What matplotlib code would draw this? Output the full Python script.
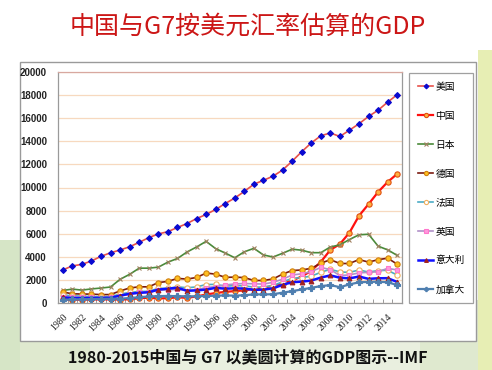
import matplotlib
matplotlib.use("Agg")
import matplotlib.pyplot as plt
from matplotlib.patches import Rectangle
import numpy as np

years = list(range(1980, 2016))
usa = [2863, 3211, 3345, 3638, 4041, 4347, 4590, 4870, 5253, 5658, 5980, 6174, 6539, 6879, 7309, 7664,
       8100, 8609, 9089, 9661, 10285, 10622, 10978, 11511, 12275, 13094, 13856, 14478, 14719, 14419,
       14964, 15518, 16155, 16692, 17393, 18037]
china = [305, 290, 285, 305, 315, 310, 300, 327, 410, 460, 395, 415, 495, 445, 565, 735,
         865, 965, 1030, 1090, 1215, 1340, 1475, 1660, 1955, 2290, 2790, 3555, 4595, 5100,
         6090, 7550, 8560, 9610, 10480, 11180]
japan = [1087, 1201, 1117, 1218, 1295, 1385, 2051, 2485, 3015, 3017, 3104, 3537, 3853, 4415, 4850, 5334,
         4706, 4324, 3915, 4433, 4731, 4160, 3980, 4302, 4656, 4572, 4357, 4356, 4849, 5035,
         5495, 5906, 5954, 4920, 4602, 4120]
germany = [950, 800, 775, 770, 725, 730, 1045, 1300, 1400, 1400, 1770, 1870, 2130, 2070, 2210, 2590,
           2500, 2220, 2240, 2200, 1950, 1950, 2080, 2500, 2810, 2860, 3000, 3440, 3750, 3420,
           3420, 3760, 3540, 3750, 3880, 3360]
france = [700, 620, 590, 560, 530, 550, 770, 920, 1000, 1010, 1270, 1270, 1400, 1320, 1390, 1600,
          1610, 1460, 1510, 1490, 1370, 1380, 1500, 1840, 2120, 2200, 2320, 2660, 2920, 2690,
          2650, 2860, 2680, 2810, 2830, 2420]
uk = [560, 540, 510, 480, 460, 490, 600, 740, 910, 930, 1090, 1140, 1180, 1060, 1140, 1340,
      1420, 1560, 1650, 1690, 1660, 1640, 1790, 2060, 2420, 2530, 2710, 3080, 2890, 2380,
      2430, 2610, 2650, 2710, 3000, 2860]
italy = [480, 430, 430, 440, 440, 450, 640, 800, 880, 930, 1160, 1240, 1320, 1060, 1090, 1160,
         1310, 1240, 1270, 1250, 1140, 1160, 1270, 1570, 1800, 1850, 1940, 2200, 2390, 2190,
         2130, 2290, 2090, 2140, 2150, 1820]
canada = [275, 305, 315, 340, 355, 365, 375, 430, 505, 565, 595, 610, 590, 580, 580, 605,
          630, 655, 635, 675, 745, 740, 760, 895, 1025, 1170, 1315, 1460, 1550, 1370,
          1610, 1790, 1830, 1840, 1800, 1550]

names = ["美国", "中国", "日本", "德国", "法国", "英国", "意大利", "加拿大"]
title_text = "中国与G7按美元汇率估算的GDP"
caption_text = "1980-2015中国与 G7 以美圆计算的GDP图示--IMF"
yticks = list(range(0, 20001, 2000))
xtick_years = list(range(1980, 2015, 2))

plt.rcParams['font.family'] = ['Noto Sans CJK SC', 'DejaVu Sans']

fig = plt.figure(figsize=(4.92, 3.70), dpi=100)
fig.patch.set_facecolor('white')

# background decorations (slide background)
bg = fig.add_axes([0, 0, 1, 1], zorder=-10)
bg.set_xlim(0, 492); bg.set_ylim(370, 0); bg.axis('off')
bg.add_patch(Rectangle((0, 300), 492, 70, color='#dfe9cf', lw=0))
bg.add_patch(Rectangle((90, 340), 330, 30, color='#e9efdf', lw=0))
bg.add_patch(Rectangle((0, 240), 20, 130, color='#d6e5c6', lw=0))
bg.add_patch(Rectangle((478, 50), 14, 320, color='#e7eeb4', lw=0))
bg.add_patch(Rectangle((20, 62), 456, 279, facecolor='white', edgecolor='#9a9a9a', lw=1.0))

fig.text(248 / 492, 1 - 27 / 370, title_text, color='#cc1616', fontsize=18,
         ha='center', va='center')
fig.text(248 / 492, 1 - 357 / 370, caption_text, color='#111111', fontsize=11.5,
         fontweight='bold', ha='center', va='center')

ax = fig.add_axes([58 / 492, 1 - 303 / 370, (402 - 58) / 492, (303 - 72) / 370])
ax.set_facecolor('white')

styles = [
    dict(data=usa, color='#e8504a', lw=1.2, marker='D', ms=3.0, mfc='#0a0ad0', mec='#0a0ad0'),
    dict(data=china, color='#ff1010', lw=1.6, marker='o', ms=3.8, mfc='#ffb040', mec='#e05010'),
    dict(data=japan, color='#4a8a3a', lw=1.2, marker='x', ms=3.5, mfc='#a08060', mec='#a08060'),
    dict(data=germany, color='#7a1a10', lw=1.2, marker='o', ms=3.8, mfc='#ffc020', mec='#d08010'),
    dict(data=france, color='#4bacc6', lw=1.2, marker='o', ms=3.8, mfc='white', mec='#f0b060'),
    dict(data=uk, color='#b090c8', lw=1.2, marker='s', ms=3.4, mfc='#ff99dd', mec='#ff77cc'),
    dict(data=italy, color='#1010ff', lw=1.8, marker='^', ms=3.4, mfc='#a02020', mec='#a02020'),
    dict(data=canada, color='#4f7fb0', lw=1.6, marker='P', ms=3.8, mfc='#4f7fb0', mec='#4f7fb0'),
]

for name, st in zip(names, styles):
    ax.plot(years, st['data'], color=st['color'], lw=st['lw'], marker=st['marker'],
            ms=st['ms'], mfc=st['mfc'], mec=st['mec'], mew=0.8, label=name)

ax.set_xlim(1979.5, 2015.5)
ax.set_ylim(0, 20000)
ax.set_yticks(yticks)
ax.set_yticklabels([str(v) for v in yticks], fontfamily='Liberation Sans',
                   fontweight='bold', fontsize=7, color='#222222')
ax.set_xticks(xtick_years)
ax.set_xticklabels([str(y) for y in xtick_years], rotation=45, ha='right',
                   rotation_mode='anchor', fontfamily='Liberation Serif',
                   fontsize=7, color='#222222')
ax.set_xticks(np.arange(1979.5, 2015.6, 1), minor=True)
ax.tick_params(axis='x', which='major', length=0, pad=7)
ax.tick_params(axis='x', which='minor', length=3, color='#888888', direction='in')
ax.tick_params(axis='y', length=0, pad=8)
ax.grid(axis='y', color='#f7d9bf', lw=0.9)
ax.set_axisbelow(True)
for s in ['left', 'bottom', 'right']:
    ax.spines[s].set_color('#9a9a9a')
    ax.spines[s].set_linewidth(0.9)
ax.spines['top'].set_color('#d8a8a0')
ax.spines['top'].set_linewidth(0.9)

leg = fig.legend(loc='upper left', bbox_to_anchor=(409 / 492, 1 - 73 / 370),
                 fontsize=7, handlelength=1.6, handletextpad=0.2, labelspacing=1.95,
                 borderpad=0.9, borderaxespad=0, frameon=True, fancybox=False,
                 markerscale=0.8)
leg.get_frame().set_edgecolor('#888888')
leg.get_frame().set_linewidth(0.9)

fig.savefig('out.png', dpi=100)
